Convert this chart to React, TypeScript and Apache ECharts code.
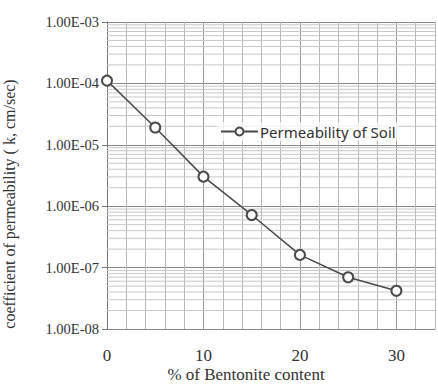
import React, { useEffect, useRef } from "react";
import * as echarts from "echarts";

const bentonite = [0, 5, 10, 15, 20, 25, 30];
const permeability = [1.11e-4, 1.91e-5, 3.03e-6, 7.2e-7, 1.61e-7, 6.95e-8, 4.2e-8];
const seriesName = "Permeability of Soil";
const xTitle = "% of Bentonite content";
const yTitle = "coefficient of permeability ( k, cm/sec)";
const xLabels = [0, 10, 20, 30];
const minorMultipliers = [2, 3, 4, 5, 6, 7, 8, 9];
const decades = [-8, -7, -6, -5, -4];

const X_MIN = 0;
const X_MAX = 34;

function fmtSci(v: number): string {
  const e = Math.round(Math.log10(v));
  const m = v / Math.pow(10, e);
  const sign = e < 0 ? "-" : "+";
  return m.toFixed(2) + "E" + sign + String(Math.abs(e)).padStart(2, "0");
}

export default function App() {
  const ref = useRef<HTMLDivElement>(null);
  useEffect(() => {
    if (!ref.current) return;
    const chart = echarts.init(ref.current, null, { renderer: "svg" });
    const minorValues: number[][] = [];
    decades.forEach((d) => {
      minorMultipliers.forEach((m) => {
        minorValues.push([0, m * Math.pow(10, d)]);
      });
    });
    const serif = "Liberation Serif";
    chart.setOption({
      animation: false,
      backgroundColor: "#fff",
      grid: { left: 107, top: 22, right: 0, bottom: 56 },
      legend: {
        data: [seriesName],
        left: 217,
        top: 122,
        itemWidth: 37,
        itemHeight: 10,
        itemGap: 4,
        padding: [2, 3, 2, 3],
        backgroundColor: "rgba(255,255,255,0.75)",
        textStyle: { fontFamily: "Noto Sans", fontSize: 15, color: "#333", padding: [0, 0, 0, -3] },
      },
      xAxis: {
        type: "value",
        min: X_MIN,
        max: X_MAX,
        interval: 2,
        axisLine: { show: true, lineStyle: { color: "#888", width: 1 } },
        axisTick: { show: false },
        axisLabel: {
          fontFamily: serif,
          fontSize: 17,
          color: "#333",
          margin: 18,
          formatter: (v: number) => (xLabels.indexOf(v) >= 0 ? String(v) : ""),
        },
        splitLine: {
          show: true,
          lineStyle: { color: ["#9a9a9a", "#b8b8b8", "#b8b8b8", "#b8b8b8", "#b8b8b8"], width: 1 },
        },
      },
      yAxis: {
        type: "log",
        logBase: 10,
        min: 1e-8,
        max: 1e-3,
        axisLine: { show: true, onZero: false, lineStyle: { color: "#777", width: 1 } },
        axisTick: { show: true, length: 5, inside: false, lineStyle: { color: "#777" } },
        axisLabel: {
          fontFamily: serif,
          fontSize: 14.5,
          color: "#333",
          margin: 8,
          formatter: (v: number) => fmtSci(v),
        },
        splitLine: { show: true, lineStyle: { color: "#888", width: 1 } },
      },
      graphic: [
        {
          type: "text",
          x: 246,
          y: 374,
          style: {
            text: xTitle,
            font: "17px Liberation Serif",
            fill: "#333",
            textAlign: "center",
            textVerticalAlign: "middle",
          },
        },
        {
          type: "text",
          x: 9,
          y: 204,
          rotation: Math.PI / 2,
          style: {
            text: yTitle,
            font: "16px Liberation Serif",
            fill: "#333",
            textAlign: "center",
            textVerticalAlign: "middle",
          },
        },
      ],
      series: [
        {
          type: "custom",
          name: "minor",
          z: 1,
          silent: true,
          data: minorValues,
          renderItem: (params: any, api: any) => {
            const v = api.value(1);
            const s = api.coord([X_MIN, v]);
            const e = api.coord([X_MAX, v]);
            return {
              type: "line",
              shape: { x1: s[0], y1: s[1], x2: e[0], y2: e[1] },
              style: { stroke: "#c8c8c8", lineWidth: 1 },
            };
          },
        },
        {
          type: "line",
          name: seriesName,
          z: 5,
          data: bentonite.map((x, i) => [x, permeability[i]]),
          symbol: "emptyCircle",
          symbolSize: 10,
          lineStyle: { color: "#4a4a4a", width: 1.5 },
          itemStyle: { color: "#4a4a4a", borderColor: "#4a4a4a", borderWidth: 1.5 },
        },
      ],
    });
    return () => chart.dispose();
  }, []);
  return (
    <div
      ref={ref}
      style={{ position: "fixed", left: 0, top: 0, width: 438, height: 385 }}
    />
  );
}
